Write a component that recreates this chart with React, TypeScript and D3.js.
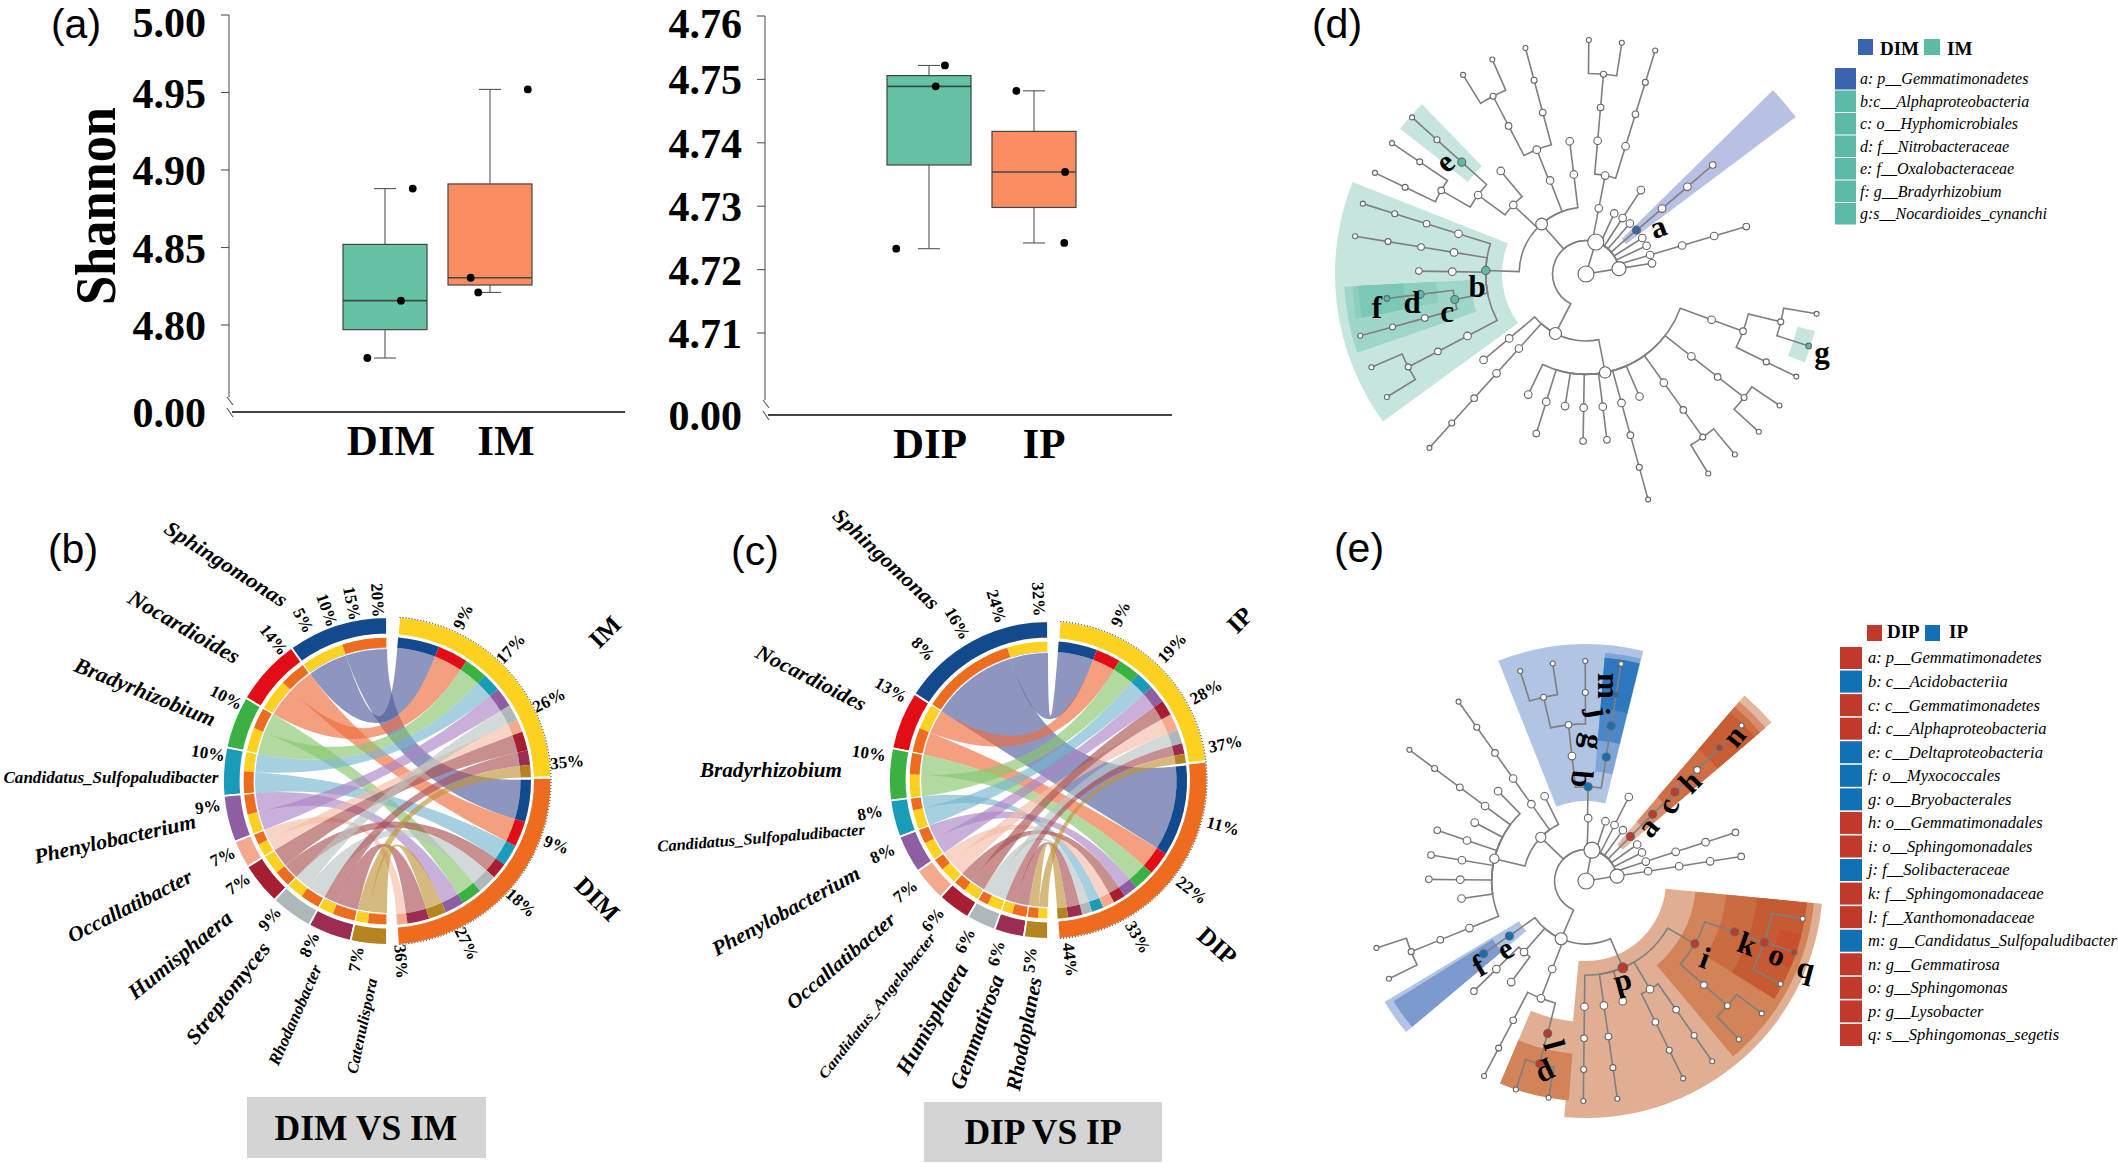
import * as d3 from 'd3';
import type { FC } from 'react';

// ---- (a) box plots: lower whisker, q1, median, q3, upper whisker, then the three samples
const dimIm = ['DIM', 'IM'];
const dipIp = ['DIP', 'IP'];
const dimBox = [4.7787, 4.797, 4.8157, 4.852, 4.888];
const imBox = [4.821, 4.8258, 4.8305, 4.891, 4.952];
const dipBox = [4.7233, 4.7365, 4.7489, 4.7506, 4.7522];
const ipBox = [4.7242, 4.7298, 4.7354, 4.7418, 4.7482];
const dimPoints = [4.7787, 4.8157, 4.888];
const imPoints = [4.8305, 4.821, 4.952];
const dipPoints = [4.7233, 4.7489, 4.7522];
const ipPoints = [4.7482, 4.7242, 4.7354];
const leftTicks = [4.8, 4.85, 4.9, 4.95, 5.0];
const rightTicks = [4.71, 4.72, 4.73, 4.74, 4.75, 4.76];

// ---- (b) chord diagram
const bGenera = ['Sphingomonas', 'Nocardioides', 'Bradyrhizobium', 'Candidatus_Sulfopaludibacter', 'Phenylobacterium', 'Occallatibacter', 'Humisphaera', 'Streptomyces', 'Rhodanobacter', 'Catenulispora'];
const bPct = [20, 14, 10, 10, 9, 7, 7, 9, 8, 7];
const bToIM = [17, 12.5, 9.5, 7.7, 8, 5.2, 7.8, 6.6, 6, 5];
const bToDIM = [17.5, 10.5, 8.5, 8.8, 8, 4.3, 6.7, 7.9, 9, 7.4];
const bIMOrder = [0, 1, 2, 3, 4, 7, 5, 6, 8, 9];
const bDIMOrder = [0, 1, 3, 6, 7, 2, 4, 9, 8, 5];
const bYellowFirst = [false, false, false, true, false, false, true, true, true, true];
const bExtraTicks = [5, 10, 15, 20];
const bIMTicks = [9, 17, 26, 35];
const bDIMTicks = [9, 18, 27, 36];

// ---- (c) chord diagram
const cGenera = ['Sphingomonas', 'Nocardioides', 'Bradyrhizobium', 'Candidatus_Sulfopaludibacter', 'Phenylobacterium', 'Occallatibacter', 'Candidatus_Angelobacter', 'Humisphaera', 'Gemmatirosa', 'Rhodoplanes'];
const cPct = [32, 13, 10, 8, 8, 7, 6, 6, 6, 5];
const cToIP = [16.5, 10.5, 9.5, 8, 7.5, 7, 6.5, 6, 4.5, 4];
const cToDIP = [38.5, 10, 8.8, 5, 6, 5, 5.2, 4.3, 6, 4.4];
const cIPOrder = [0, 1, 2, 3, 4, 6, 5, 7, 8, 9];
const cDIPOrder = [0, 1, 2, 4, 6, 5, 3, 7, 8, 9];
const cYellowFirst = [true, true, false, false, false, false, false, false, true, false];
const cExtraTicks = [8, 16, 24, 32];
const cIPTicks = [9, 19, 28, 37];
const cDIPTicks = [11, 22, 33, 44];

const genusColors = ['#134A8E', '#E30D18', '#3BB143', '#1A9BB8', '#8E5EA2', '#F4A98E', '#A71D32', '#AEB8BA', '#9B2D52', '#B58420'];
const ribbonColors = ['#515E9E', '#EE6D3C', '#89C66D', '#76B5CE', '#AB86C6', '#F5BDA8', '#AB5353', '#BAC5C3', '#AB5358', '#C0943A'];
const yellow = '#FDD11F';
const orange = '#EE6C1D';

// ---- (d) and (e) cladograms: angle of every taxon in degrees, clockwise from the top; depth is the rank
interface Taxon { angle: number; mark?: string; children?: Taxon[] }
const n = (angle: number, ...children: Taxon[]): Taxon => ({ angle, children });
const m = (mark: string, angle: number, ...children: Taxon[]): Taxon => ({ angle, mark, children });
const chain = (angle: number, count: number, ...children: Taxon[]): Taxon =>
	count === 1 ? n(angle, ...children) : n(angle, chain(angle, count - 1, ...children));

const dTree = n(0,
	n(17,
		n(-152.8,
			n(169,
				n(205.6), chain(197.3, 2), n(189), chain(181, 2), chain(172.8, 2), chain(164.6, 4), n(156.4),
				chain(144.4, 3, n(140.5), n(148.5)),
				chain(128, 3, n(124.2), n(132.4)),
				chain(110, 2, n(103.8, n(99.8), m('g', 107.9)), chain(116, 2))),
			chain(-138, 5),
			chain(-130, 2)),
		n(-41.6,
			m('b', -88,
				chain(-72.5, 4), chain(-80.7, 4), chain(-89, 2),
				m('c', -101, m('d', -97, m('f', -97)), chain(-105.3, 3)),
				chain(-117.6, 3, n(-113.5), n(-121.7))),
			n(-46.5, n(-53.8, m('e', -48, chain(-48, 2)), n(-60, chain(-56, 2), chain(-64.4, 2))), n(-39.6)),
			n(-21, n(-21.6, chain(-27.6, 2, n(-31.7), n(-23.6)), chain(-15, 3))),
			chain(-7, 2)),
		chain(11, 2, chain(5, 3, n(0.7), n(8.8)), chain(17.2, 4)),
		n(25), chain(33.2, 2), n(41), m('a', 49, chain(49.3, 3)), n(57.4), n(65), chain(73.5, 4)),
	chain(80.8, 2));

const eTree = n(0,
	n(11,
		n(-46,
			n(-76.3,
				n(-44.4), chain(-53.4, 4), n(-62.3), chain(-71.2, 2), chain(-80.5, 2), chain(-89.4, 2), n(-98),
				chain(-112, 3, n(-107.7), n(-116.4))),
			chain(-35.4, 5),
			n(-26)),
		n(-156.7,
			m('e', -125.7, m('f', -125.4)),
			n(-138.9, chain(-134.5, 2), n(-143.5)),
			chain(-159, 2, chain(-152.4, 3), m('l', -165.9, m('p', -165.8, n(-161.4), n(-170.2)))),
			m('d', 157,
				chain(180.7, 4), chain(171.8, 4), n(163),
				n(149.4, chain(153.8, 3), chain(145, 3)),
				m('i', 120,
					m('k', 108.9, m('o', 109, n(99.9), m('q', 108.9), n(117.9))),
					chain(131.4, 2, n(127), n(136))))),
		n(2, m('b', 1.3,
			chain(-6.4, 2, n(-13, n(-17.4), n(-8.7)), chain(-0.2, 2)),
			m('g', 9.3, m('j', 9.2, m('m', 9.2, n(9.2)))))),
		n(18), chain(27, 2), n(36),
		m('a', 45, m('c', 45, m('h', 45, n(45, m('n', 45, n(45)))))),
		n(54.5), n(63), chain(72, 4)),
	chain(81, 5));

// highlighted clades: inner radius, outer radius, from angle, to angle (radius in px), colour
const dWedges: [number, number, number, number, string][] = [
	[84, 251, -126, -68.5, '#C5E5DE'],
	[116, 242, -109, -93, '#9FD6CA'],
	[150, 234, -101, -93, '#8CCFBE'],
	[183, 228, -101, -93, '#7AC8B5'],
	[150, 236, -52, -44, '#C5E5DE'],
	[50, 262, 45.5, 53.2, '#B8C0E4'],
	[218, 236, 104, 112, '#C5E5DE'],
];
const eWedges: [number, number, number, number, string][] = [
	[80, 237, 95.5, 185.3, '#E0AE93'],
	[110, 229, 95.6, 140, '#D28358'],
	[141, 222, 95.6, 122, '#CB6B40'],
	[172, 222, 95.6, 122, '#C65A32'],
	[200, 222, 104, 113, '#C9502A'],
	[141, 220, -175, -157, '#E0AE93'],
	[173, 220, -175.5, -157, '#D28358'],
	[78, 235, -130, -121, '#B0C4E4'],
	[110, 227, -130, -122, '#7C9ACD'],
	[80, 237, -21.7, 14, '#B0C4E4'],
	[110, 229, 4.8, 13.8, '#7FA4D8'],
	[141, 224, 4.8, 13.8, '#4A87C8'],
	[173, 224, 4.8, 13.8, '#2D77BF'],
	[48, 244, 40.5, 49.5, '#E3B79F'],
	[78, 236, 40.5, 49.5, '#D98A66'],
	[110, 229, 40.5, 49.5, '#CF6E45'],
	[173, 222, 40.5, 49.5, '#C85D33'],
];

const dTerms = ['a: p__Gemmatimonadetes', 'b:c__Alphaproteobacteria', 'c: o__Hyphomicrobiales', 'd: f__Nitrobacteraceae', 'e: f__Oxalobacteraceae', 'f: g__Bradyrhizobium', 'g:s__Nocardioides_cynanchi'];
const dTermGroups = [0, 1, 1, 1, 1, 1, 1];
const eTerms = ['a: p__Gemmatimonadetes', 'b: c__Acidobacteriia', 'c: c__Gemmatimonadetes', 'd: c__Alphaproteobacteria', 'e: c__Deltaproteobacteria', 'f: o__Myxococcales', 'g: o__Bryobacterales', 'h: o__Gemmatimonadales', 'i: o__Sphingomonadales', 'j: f__Solibacteraceae', 'k: f__Sphingomonadaceae', 'l: f__Xanthomonadaceae', 'm: g__Candidatus_Sulfopaludibacter', 'n: g__Gemmatirosa', 'o: g__Sphingomonas', 'p: g__Lysobacter', 'q: s__Sphingomonas_segetis'];
const eTermGroups = [0, 1, 0, 0, 1, 1, 1, 0, 0, 1, 0, 0, 1, 0, 0, 0, 0];

const serif = '"Liberation Serif", serif';
const sans = '"Liberation Sans", sans-serif';
const rad = (deg: number) => (deg * Math.PI) / 180;
const polar = (deg: number, r: number): [number, number] => [r * Math.sin(rad(deg)), -r * Math.cos(rad(deg))];

// ---- box plot panel
interface BoxPanelProps {
	groups: string[];
	boxes: number[][];
	points: number[][];
	jitter: number[][];
	ticks: number[];
	tickFormat: string;
	y: [number, number, number, number];
	axisX: number;
	baseY: number;
	baseEnd: number;
	bandRange: [number, number];
	labelRange: [number, number];
}

const BoxPanel: FC<BoxPanelProps> = ({ groups, boxes, points, jitter, ticks, tickFormat, y, axisX, baseY, baseEnd, bandRange, labelRange }) => {
	const scaleY = d3.scaleLinear().domain([y[0], y[1]]).range([y[2], y[3]]);
	const scaleX = d3.scaleBand().domain(groups).range(bandRange).paddingInner(0.2).paddingOuter(0.1);
	const labelX = d3.scalePoint().domain(groups).range(labelRange);
	const fmt = d3.format(tickFormat);
	const colors = ['#65C2A4', '#FC8D62'];
	const bw = scaleX.bandwidth();
	const top = ticks[ticks.length - 1];
	return (
		<g>
			<line x1={axisX} x2={axisX} y1={scaleY(top)} y2={baseY - 15} stroke="#555" strokeWidth={1.1} />
			<path d={`M${axisX - 2},${baseY - 15}L${axisX + 4},${baseY - 7}M${axisX - 2},${baseY - 4}L${axisX + 4},${baseY + 5}`} stroke="#555" strokeWidth={1.1} fill="none" />
			<line x1={axisX + 3} x2={baseEnd} y1={baseY} y2={baseY} stroke="#444" strokeWidth={2} />
			{ticks.map((t) => (
				<g key={t}>
					<line x1={axisX - 8} x2={axisX} y1={scaleY(t)} y2={scaleY(t)} stroke="#555" strokeWidth={1.1} />
					<text x={axisX - 23} y={scaleY(t) + (t === top ? 22 : 15)} textAnchor="end" fontFamily={serif} fontWeight="bold" fontSize={42}>{fmt(t)}</text>
				</g>
			))}
			<text x={axisX - 23} y={baseY + 15} textAnchor="end" fontFamily={serif} fontWeight="bold" fontSize={42}>0.00</text>
			{groups.map((g, i) => {
				const [lo, q1, med, q3, hi] = boxes[i];
				const x0 = scaleX(g)!;
				const cx = x0 + bw / 2;
				return (
					<g key={g}>
						<line x1={cx} x2={cx} y1={scaleY(lo)} y2={scaleY(hi)} stroke="#555" strokeWidth={1.1} />
						<line x1={cx - 11} x2={cx + 11} y1={scaleY(lo)} y2={scaleY(lo)} stroke="#555" strokeWidth={1.1} />
						<line x1={cx - 11} x2={cx + 11} y1={scaleY(hi)} y2={scaleY(hi)} stroke="#555" strokeWidth={1.1} />
						<rect x={x0} y={scaleY(q3)} width={bw} height={scaleY(q1) - scaleY(q3)} fill={colors[i]} stroke="#444" strokeWidth={1.2} />
						<line x1={x0} x2={x0 + bw} y1={scaleY(med)} y2={scaleY(med)} stroke="#3c4a45" strokeWidth={1.6} />
						{points[i].map((p, j) => (
							<circle key={j} cx={cx + jitter[i][j] * bw} cy={scaleY(p)} r={3.9} fill="#000" />
						))}
						<text x={labelX(g)!} y={baseY + 43} textAnchor="middle" fontFamily={serif} fontWeight="bold" fontSize={43}>{g}</text>
					</g>
				);
			})}
		</g>
	);
};

// ---- chord panel
interface ChordProps {
	cx: number;
	cy: number;
	R: number;
	genera: string[];
	pct: number[];
	toA: number[];
	toB: number[];
	orderA: number[];
	orderB: number[];
	yellowFirst: boolean[];
	extraTicks: number[];
	ticksA: number[];
	ticksB: number[];
	spanA: [number, number];
	spanB: [number, number];
	tickSpanA: [number, number];
	tickSpanB: [number, number];
	labelR: number;
}

const Chord: FC<ChordProps> = ({ cx, cy, R, genera, pct, toA, toB, orderA, orderB, yellowFirst, extraTicks, ticksA, ticksB, spanA, spanB, tickSpanA, tickSpanB, labelR }) => {
	const outerIn = R - 17.5;
	const innerOut = R - 20;
	const innerIn = R - 30.5;
	const totals = genera.map((_, i) => toA[i] + toB[i]);
	const total = d3.sum(totals);
	const genusAngle = d3.scaleLinear().domain([0, total]).range([360, 180]);
	const ring = d3.arc<{ a0: number; a1: number; r0: number; r1: number }>()
		.innerRadius((d) => d.r0).outerRadius((d) => d.r1)
		.startAngle((d) => rad(d.a0)).endAngle((d) => rad(d.a1));
	const ribbon = d3.ribbon<any, any>().radius(innerIn);

	// angles of the two halves of every genus
	let cum = 0;
	const genusStrips = genera.map((_, i) => {
		const start = cum;
		const first = yellowFirst[i] ? toA[i] : toB[i];
		cum += totals[i];
		const mid = start + first;
		const a = [genusAngle(cum), genusAngle(mid)] as [number, number];
		const b = [genusAngle(mid), genusAngle(start)] as [number, number];
		return yellowFirst[i] ? { A: b, B: a, sector: [a[0], b[1]] } : { A: a, B: b, sector: [a[0], b[1]] };
	});
	const sideStrips = (values: number[], order: number[], span: [number, number]) => {
		const scale = d3.scaleLinear().domain([0, d3.sum(values)]).range(span);
		const out: [number, number][] = [];
		let c = 0;
		order.forEach((g) => {
			out[g] = [scale(c), scale(c + values[g])];
			c += values[g];
		});
		return out;
	};
	const stripsA = sideStrips(toA, orderA, spanA);
	const stripsB = sideStrips(toB, orderB, spanB);
	const scaleA = d3.scaleLinear().domain([0, ticksA[ticksA.length - 1]]).range(tickSpanA);
	const scaleB = d3.scaleLinear().domain([0, ticksB[ticksB.length - 1]]).range(tickSpanB);

	const tickLabel = (key: string, v: number, a: number) => {
		const norm = ((a % 360) + 360) % 360;
		const [x, y] = polar(a, labelR);
		const rot = norm <= 180 ? norm - 90 : norm + 90 - 360;
		return (
			<text key={key} transform={`translate(${x},${y}) rotate(${rot})`} dy=".33em" textAnchor="middle" fontFamily={serif} fontWeight="bold" fontSize={17}>{v}%</text>
		);
	};

	return (
		<g transform={`translate(${cx},${cy})`}>
			{/* outer ring */}
			{genera.map((g, i) => (
				<path key={g} d={ring({ a0: genusStrips[i].sector[0], a1: genusStrips[i].sector[1], r0: outerIn, r1: R })!} fill={genusColors[i]} stroke="#fff" strokeWidth={1.8} />
			))}
			<path d={ring({ a0: spanA[0], a1: spanA[1], r0: outerIn, r1: R })!} fill={yellow} stroke="#fff" strokeWidth={1} />
			<path d={ring({ a0: spanB[0] - 0.5, a1: spanB[1], r0: outerIn, r1: R })!} fill={orange} stroke="#fff" strokeWidth={1} />
			<path d={d3.arc()({ innerRadius: R, outerRadius: R, startAngle: rad(spanA[0]), endAngle: rad(spanB[1]) })!} fill="none" stroke="#444" strokeWidth={0.8} strokeDasharray="1 2" />
			{/* ribbons */}
			{genera.map((_, i) => (
				<g key={i}>
					<path fill={ribbonColors[i]} fillOpacity={0.65} d={ribbon({
						source: { startAngle: rad(genusStrips[i].A[0]), endAngle: rad(genusStrips[i].A[1]) },
						target: { startAngle: rad(stripsA[i][0]), endAngle: rad(stripsA[i][1]) },
					}) as unknown as string} />
					<path fill={ribbonColors[i]} fillOpacity={0.65} d={ribbon({
						source: { startAngle: rad(genusStrips[i].B[0]), endAngle: rad(genusStrips[i].B[1]) },
						target: { startAngle: rad(stripsB[i][0]), endAngle: rad(stripsB[i][1]) },
					}) as unknown as string} />
				</g>
			))}
			{/* inner ring */}
			{genera.map((_, i) => (
				<g key={i}>
					<path d={ring({ a0: genusStrips[i].A[0], a1: genusStrips[i].A[1], r0: innerIn, r1: innerOut })!} fill={yellow} />
					<path d={ring({ a0: genusStrips[i].B[0], a1: genusStrips[i].B[1], r0: innerIn, r1: innerOut })!} fill={orange} />
					<path d={ring({ a0: stripsA[i][0], a1: stripsA[i][1], r0: innerIn, r1: innerOut })!} fill={genusColors[i]} />
					<path d={ring({ a0: stripsB[i][0], a1: stripsB[i][1], r0: innerIn, r1: innerOut })!} fill={genusColors[i]} />
					<path d={ring({ a0: genusStrips[i].sector[0], a1: genusStrips[i].sector[1], r0: innerIn - 1, r1: innerOut })!} fill="none" stroke="#fff" strokeWidth={1.2} />
				</g>
			))}
			{/* percentage labels */}
			{genera.map((_, i) => {
				const [a0, a1] = genusStrips[i].sector;
				if (i === 0) {
					const s = d3.scaleLinear().domain([0, pct[0]]).range([a0, a1 - 3]);
					return extraTicks.map((v) => tickLabel(`g${v}`, v, s(v)));
				}
				return tickLabel(`g${i}`, pct[i], a1 - 3);
			})}
			{ticksA.map((v) => tickLabel(`a${v}`, v, scaleA(v)))}
			{ticksB.map((v) => tickLabel(`b${v}`, v, scaleB(v)))}
		</g>
	);
};

// ---- cladogram
interface CladoProps {
	cx: number;
	cy: number;
	tree: Taxon;
	maxR: number;
	wedges: [number, number, number, number, string][];
	markColor: (mark: string) => string;
}

const Cladogram: FC<CladoProps> = ({ cx, cy, tree, maxR, wedges, markColor }) => {
	const root = d3.hierarchy(tree).count();
	const radius = d3.scaleLinear().domain([0, 7]).range([0, maxR]);
	const sizeByCount = d3.scaleSqrt().domain([1, 30]).range([2, 8]);
	const levelSize = [8, 7, 3.8, 3.8, 3.8, 3.3, 3, 2.5];
	const wedgeArc = d3.arc<[number, number, number, number, string]>()
		.innerRadius((d) => d[0]).outerRadius((d) => d[1])
		.startAngle((d) => rad(d[2])).endAngle((d) => rad(d[3]));
	const nodes = root.descendants();
	const linkPath = (node: d3.HierarchyNode<Taxon>) => {
		const p = node.parent!;
		const rp = radius(p.depth);
		const [x0, y0] = polar(node.data.angle, radius(node.depth));
		const path = d3.path();
		path.moveTo(x0, y0);
		const [x1, y1] = polar(node.data.angle, rp);
		path.lineTo(x1, y1);
		if (rp > 0 && node.data.angle !== p.data.angle) {
			let delta = (p.data.angle - node.data.angle) % 360;
			if (delta > 180) delta -= 360;
			if (delta < -180) delta += 360;
			const start = rad(node.data.angle - 90);
			path.arc(0, 0, rp, start, start + rad(delta), delta < 0);
		}
		return path.toString();
	};
	return (
		<g transform={`translate(${cx},${cy})`}>
			{wedges.map((w, i) => (
				<path key={i} d={wedgeArc(w)!} fill={w[4]} />
			))}
			{nodes.slice(1).map((d, i) => (
				<path key={i} d={linkPath(d)} fill="none" stroke="#7F7F7F" strokeWidth={1.6} />
			))}
			{nodes.map((d, i) => {
				const [x, y] = polar(d.data.angle, radius(d.depth));
				const r = Math.max(levelSize[d.depth], Math.min(sizeByCount(d.value ?? 1), 8));
				const markR = d.depth >= 6 && d.value === 1 ? 2.8 : Math.max(r, 4);
				return (
					<circle key={i} cx={x} cy={y} r={d.data.mark ? markR : r} fill={d.data.mark ? markColor(d.data.mark) : '#fff'} stroke="#666" strokeWidth={1.1} />
				);
			})}
		</g>
	);
};

// tree letters: letter, x, y, rotation
const dLetters: [string, number, number, number][] = [
	['a', 1658, 227, -20], ['b', 1477, 287, 0], ['c', 1447, 312, 0], ['d', 1412, 303, 0], ['e', 1445, 162, -40], ['f', 1377, 308, 0], ['g', 1822, 353, 0],
];
const eLetters: [string, number, number, number][] = [
	['a', 1648, 827, -50], ['c', 1668, 806, -70], ['h', 1690, 782, -45], ['n', 1734, 736, -50],
	['b', 1582, 779, 95], ['g', 1593, 742, 100], ['j', 1599, 712, 80], ['m', 1608, 686, 90],
	['d', 1624, 986, 165], ['i', 1705, 958, 20], ['k', 1747, 944, 20], ['o', 1777, 955, 20], ['q', 1806, 968, 15],
	['l', 1554, 1045, 75], ['p', 1547, 1076, 155], ['e', 1505, 949, -30], ['f', 1479, 966, -30],
];

// chord labels: x, y, rotation, font size, length
const bNameLayout: [number, number, number, number, number][] = [
	[226, 564, 32.5, 21, 141], [184, 627, 30, 22, 125], [145, 692, 22, 22, 150], [111, 778, 0, 16.5, 215], [115, 839, -12.5, 21, 165],
	[130, 906, -27, 21, 137], [180, 955, -39, 22, 127], [228, 993, -52, 21, 123], [295, 1015, -66, 17, 108], [362, 1026, -78, 16, 97],
];
const cNameLayout: [number, number, number, number, number][] = [
	[886, 559, 43, 21, 137], [811, 678, 27, 21, 121], [771, 770, 0, 21, 142], [761, 838, -4.7, 16, 208], [786, 911, -28.5, 21, 165],
	[841, 961, -40.6, 20, 137], [877, 1006, -52, 14.5, 180], [932, 1019, -60.5, 22, 124], [977, 1032, -70, 22, 120], [1024, 1034, -79, 21, 115],
];

const Label: FC<{ x: number; y: number; rot?: number; size: number; len?: number; italic?: boolean; bold?: boolean; family?: string; text: string; anchor?: string }> = ({ x, y, rot = 0, size, len, italic, bold = true, family = serif, text, anchor = 'middle' }) => (
	<text
		transform={`translate(${x},${y}) rotate(${rot})`}
		dy=".33em"
		textAnchor={anchor}
		fontFamily={family}
		fontWeight={bold ? 'bold' : 'normal'}
		fontStyle={italic ? 'italic' : 'normal'}
		fontSize={size}
		{...(len ? { textLength: len, lengthAdjust: 'spacingAndGlyphs' } : {})}
	>
		{text}
	</text>
);

const App: FC = () => {
	const dColors = ['#3A63B0', '#5BBBA7'];
	const eColors = ['#C0392B', '#1270B5'];
	return (
		<svg width={2118} height={1163} style={{ position: 'absolute', left: 0, top: 0, background: '#fff' }}>
			<Label x={76} y={24} size={41} bold={false} family={sans} text="(a)" />
			<Label x={73} y={549} size={41} bold={false} family={sans} text="(b)" />
			<Label x={755} y={551} size={41} bold={false} family={sans} text="(c)" />
			<Label x={1337} y={24} size={41} bold={false} family={sans} text="(d)" />
			<Label x={1359} y={548} size={41} bold={false} family={sans} text="(e)" />

			<g transform="translate(101,206) rotate(-90)">
				<text textAnchor="middle" y={14} fontFamily={serif} fontWeight="bold" fontSize={58} textLength={198} lengthAdjust="spacingAndGlyphs">Shannon</text>
			</g>
			<BoxPanel
				groups={dimIm}
				boxes={[dimBox, imBox]}
				points={[dimPoints, imPoints]}
				jitter={[[-0.21, 0.19, 0.33], [-0.23, -0.14, 0.45]]}
				ticks={leftTicks}
				tickFormat=".2f"
				y={[4.8, 5.0, 325, 15]}
				axisX={229}
				baseY={412}
				baseEnd={625}
				bandRange={[332.5, 542.5]}
				labelRange={[391, 506]}
			/>
			<BoxPanel
				groups={dipIp}
				boxes={[dipBox, ipBox]}
				points={[dipPoints, ipPoints]}
				jitter={[[-0.39, 0.08, 0.19], [-0.21, 0.36, 0.37]]}
				ticks={rightTicks}
				tickFormat=".2f"
				y={[4.71, 4.76, 333, 16]}
				axisX={765}
				baseY={415}
				baseEnd={1172}
				bandRange={[876.5, 1086.5]}
				labelRange={[930, 1044]}
			/>

			<Chord cx={387} cy={781} R={164} genera={bGenera} pct={bPct} toA={bToIM} toB={bToDIM} orderA={bIMOrder} orderB={bDIMOrder} yellowFirst={bYellowFirst} extraTicks={bExtraTicks} ticksA={bIMTicks} ticksB={bDIMTicks} spanA={[4.4, 88.5]} spanB={[89.5, 176]} tickSpanA={[4.4, 84]} tickSpanB={[89, 175.5]} labelR={181} />
			{bGenera.map((g, i) => {
				const [x, y, rot, size, len] = bNameLayout[i];
				return <Label key={g} x={x} y={y} rot={rot} size={size} len={len} italic text={g} />;
			})}
			<Label x={605} y={632} rot={-45} size={25} text="IM" />
			<Label x={597} y={899} rot={45} size={25} text="DIM" />
			<rect x={247} y={1097} width={239} height={61} fill="#D4D4D4" />
			<Label x={366} y={1128} size={35.5} text="DIM VS IM" />

			<Chord cx={1048} cy={780} R={159} genera={cGenera} pct={cPct} toA={cToIP} toB={cToDIP} orderA={cIPOrder} orderB={cDIPOrder} yellowFirst={cYellowFirst} extraTicks={cExtraTicks} ticksA={cIPTicks} ticksB={cDIPTicks} spanA={[4.4, 83]} spanB={[84, 176]} tickSpanA={[6, 78.5]} tickSpanB={[82, 173]} labelR={181} />
			{cGenera.map((g, i) => {
				const [x, y, rot, size, len] = cNameLayout[i];
				return <Label key={g} x={x} y={y} rot={rot} size={size} len={len} italic text={g} />;
			})}
			<Label x={1240} y={620} rot={-45} size={25} text="IP" />
			<Label x={1217} y={946} rot={42} size={25} text="DIP" />
			<rect x={924} y={1102} width={238} height={60} fill="#D4D4D4" />
			<Label x={1043} y={1132} size={35.5} text="DIP VS IP" />

			<Cladogram cx={1586} cy={274} tree={dTree} maxR={234} wedges={dWedges} markColor={(k) => (k === 'a' ? dColors[0] : dColors[1])} />
			{dLetters.map(([t, x, y, rot]) => (
				<Label key={t} x={x} y={y} rot={rot} size={31} text={t} />
			))}
			<rect x={1858} y={39} width={15} height={16} fill={dColors[0]} />
			<Label x={1880} y={49} size={19} anchor="start" text="DIM" />
			<rect x={1924} y={39} width={16} height={16} fill={dColors[1]} />
			<Label x={1947} y={49} size={19} anchor="start" text="IM" />
			{dTerms.map((t, i) => (
				<g key={t}>
					<rect x={1835} y={68 + i * 22.5} width={21} height={21.5} fill={dColors[dTermGroups[i]]} />
					<Label x={1860} y={79 + i * 22.5} size={16} bold={false} italic anchor="start" text={t} />
				</g>
			))}

			<Cladogram cx={1586} cy={881} tree={eTree} maxR={220} wedges={eWedges} markColor={(k) => (['b', 'e', 'f', 'g', 'j', 'm'].includes(k) ? eColors[1] : eColors[0])} />
			{eLetters.map(([t, x, y, rot]) => (
				<Label key={t} x={x} y={y} rot={rot} size={31} text={t} />
			))}
			<rect x={1867} y={625} width={15} height={16} fill={eColors[0]} />
			<Label x={1887} y={632} size={19} anchor="start" text="DIP" />
			<rect x={1925} y={625} width={15} height={16} fill={eColors[1]} />
			<Label x={1949} y={632} size={19} anchor="start" text="IP" />
			{eTerms.map((t, i) => (
				<g key={t}>
					<rect x={1840} y={647 + i * 23.56} width={22} height={22} fill={eColors[eTermGroups[i]]} />
					<Label x={1868} y={658 + i * 23.56} size={16.5} bold={false} italic anchor="start" text={t} />
				</g>
			))}
		</svg>
	);
};

export default App;
